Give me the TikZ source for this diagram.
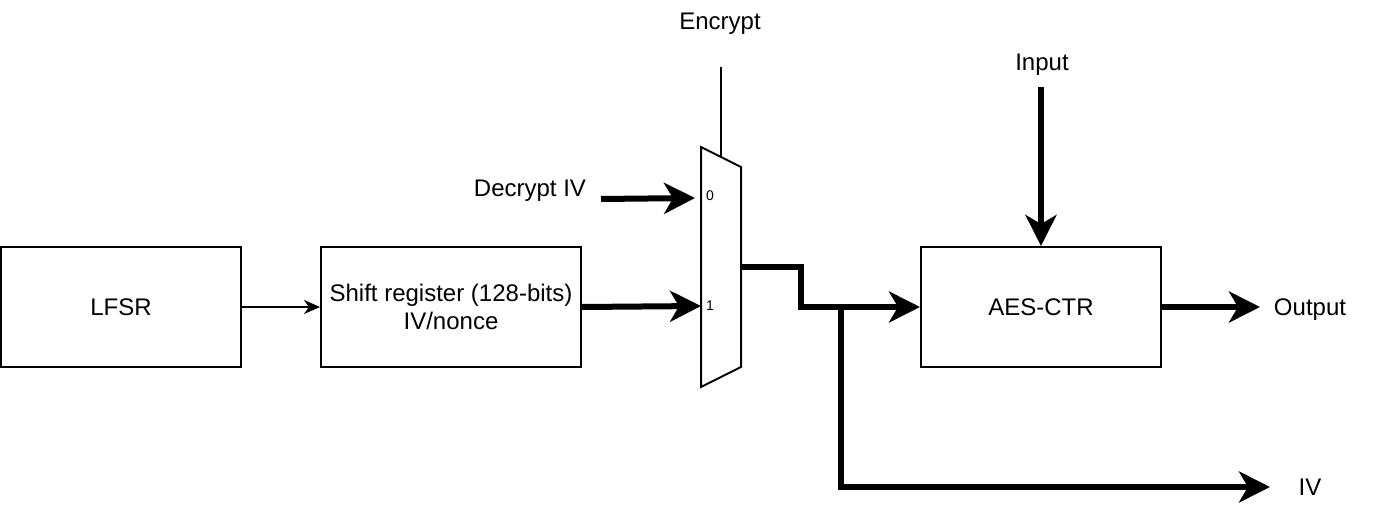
\documentclass[tikz,border=0pt]{standalone}
\usepackage{fontspec}
\setmainfont{Liberation Sans}
\usetikzlibrary{arrows.meta, calc}

\begin{document}
\begin{tikzpicture}[x=1pt, y=-1pt, font=\fontsize{24}{28}\selectfont,
    block/.style={draw, line width=2pt, minimum width=240pt, minimum height=120pt, align=center, inner sep=0pt},
    lbl/.style={text height=17pt, text depth=0pt},
    ctrl/.style={line width=2pt, -{Stealth[length=16pt, width=14pt, inset=5pt]}},
    bus/.style={line width=6pt, -{Stealth[length=31pt, width=31pt, inset=9pt]}},
    pin/.style={font=\fontsize{14}{16}\selectfont, anchor=west, inner sep=0pt}]
    \useasboundingbox (0,0) rectangle (1382,508);

    % blocks
    \node[block] (lfsr) at (121,307) {LFSR};
    \node[block, minimum width=260pt] (shreg) at (451,307) {Shift register (128-bits)\\IV/nonce};
    \node[block] (aes) at (1041,307) {AES-CTR};

    % mux
    \coordinate (M1) at (701,147);
    \coordinate (M2) at (741,167);
    \coordinate (M3) at (741,367);
    \coordinate (M4) at (701,387);
    \draw[line width=2pt, line join=miter] (M1) -- (M2) -- (M3) -- (M4) -- cycle;
    \coordinate (mux-in0) at (695,198);
    \coordinate (mux-in1) at (701,306);
    \coordinate (mux-out) at (741,267);
    \coordinate (mux-sel) at (721,157);
    \node[pin] (pin0) at (706,196) {0};
    \node[pin] (pin1) at (706,306) {1};

    % labels
    \node[lbl] (enc) at (720,21) {Encrypt};
    \node[lbl] (div) at (530,188) {Decrypt IV};
    \node[lbl] (inp) at (1042,62) {Input};
    \node[lbl] (outp) at (1310,307) {Output};
    \node[lbl] (ivout) at (1310,487) {IV};

    \coordinate (enc-end) at (721,67);
    \coordinate (div-end) at (601,199);
    \coordinate (inp-end) at (1041,87);
    \coordinate (outp-end) at (1260,307);
    \coordinate (ivout-end) at (1270,487);
    \coordinate (split) at (841,307);

    % connections
    \draw[line width=2pt] (enc-end) -- (mux-sel);
    \draw[ctrl] (lfsr.east) -- (shreg.west);
    \draw[bus] (div-end) -- (mux-in0);
    \draw[bus] (shreg.east) -- (mux-in1);
    \draw[bus] (mux-out) -- ++(60,0) |- (aes.west);
    \draw[bus] (split) |- (ivout-end);
    \draw[bus] (inp-end) -- (aes.north);
    \draw[bus] (aes.east) -- (outp-end);
\end{tikzpicture}
\end{document}
